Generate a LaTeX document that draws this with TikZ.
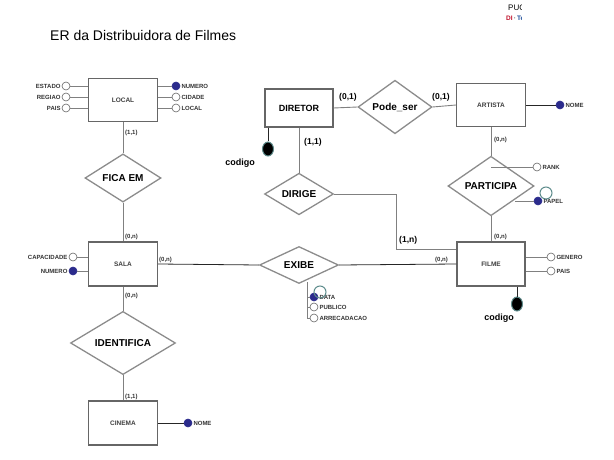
\documentclass[tikz,border=0pt]{standalone}
\usepackage{fontspec}
\setmainfont{Liberation Sans}
\usetikzlibrary{shapes.geometric}
\definecolor{navy}{HTML}{2B2B8C}
\definecolor{teal2}{HTML}{5E8C8C}
\definecolor{pucred}{HTML}{C0102A}
\definecolor{pucblue}{HTML}{1F4E9A}
\begin{document}
\begin{tikzpicture}[x=1pt,y=-1pt,
  ent/.style={draw=black!60, line width=1.1pt, fill=white, minimum width=69pt, minimum height=44pt, inner sep=0pt, font=\fontsize{6.5}{7}\selectfont\bfseries, text=black!75},
  rel/.style={diamond, draw=black!45, line width=1.3pt, fill=white, inner sep=0pt, font=\fontsize{10}{11}\selectfont\bfseries},
  ln/.style={draw=black!50, line width=0.9pt},
  dln/.style={draw=black!85, line width=0.8pt},
  att/.style={circle, draw=black!60, line width=0.6pt, fill=white, minimum size=8pt, inner sep=0pt},
  katt/.style={att, fill=navy, draw=navy},
  lab/.style={font=\fontsize{6}{7}\selectfont\bfseries, text=black!80, inner sep=1pt},
  card/.style={font=\fontsize{6}{7}\selectfont\bfseries, text=black!80, inner sep=0pt, anchor=west},
  bcard/.style={font=\fontsize{8.5}{9}\selectfont\bfseries, inner sep=0pt, anchor=west},
  cod/.style={ellipse, fill=black, draw=teal2, line width=1pt, minimum width=11pt, minimum height=14pt, inner sep=0pt},
  codlab/.style={font=\fontsize{9}{10}\selectfont\bfseries, inner sep=0pt},
  ghost/.style={circle, draw=teal2, line width=1pt, minimum size=12pt, inner sep=0pt}
]
\useasboundingbox (0,0) rectangle (614,460);

% title and logo
\node[anchor=west, font=\fontsize{14}{16}\selectfont, inner sep=0pt] (title) at (50,35) {ER da Distribuidora de Filmes};
\begin{scope}
\clip (500,0) rectangle (521,30);
\node[anchor=west, font=\fontsize{8}{9}\selectfont, inner sep=0pt] (puc) at (508,8) {PUC-Rio};
\node[anchor=west, font=\fontsize{6.5}{7}\selectfont\bfseries, inner sep=0pt] (di) at (506,18) {\textcolor{pucred}{DI}\,\textcolor{black!60}{\textperiodcentered}\,\textcolor{pucblue}{TecGraf}};
\end{scope}

% entities
\node[ent, minimum height=43pt] (local) at (123,100) {LOCAL};
\node[ent] (sala) at (123,264) {SALA};
\node[ent] (cinema) at (123,423) {CINEMA};
\node[ent, minimum width=68pt, minimum height=38pt, font=\fontsize{9}{10}\selectfont\bfseries, text=black] (diretor) at (299,108) {DIRETOR};
\node[ent, minimum height=43pt] (artista) at (491,105) {ARTISTA};
\node[ent, minimum width=68pt] (filme) at (491,264) {FILME};

% relationships
\node[rel, minimum width=76pt, minimum height=39pt] (ficaem) at (123,178) {FICA EM};
\node[rel, minimum width=105pt, minimum height=40pt] (identifica) at (123,343) {IDENTIFICA};
\node[rel, minimum width=69pt, minimum height=39pt] (dirige) at (299,194) {DIRIGE};
\node[rel, minimum width=79pt, minimum height=37pt] (exibe) at (299,265) {EXIBE};
\node[rel, minimum width=74pt, minimum height=40pt] (podeser) at (395,107) {Pode\_ser};
\node[rel, minimum width=86pt, minimum height=40pt] (participa) at (491,186) {PARTICIPA};

% connectors
\draw[ln] (local.south) -- (ficaem.north);
\draw[ln] (ficaem.south) -- (sala.north);
\draw[ln] (sala.south) -- (identifica.north);
\draw[ln] (identifica.south) -- (cinema.north);
\draw[dln] (sala.east) -- (exibe.west);
\draw[dln] (exibe.east) -- (filme.west);
\draw[ln] (diretor.east) -- (podeser.west);
\draw[ln] (podeser.east) -- (artista.west);
\draw[ln] (diretor.south) -- (dirige.north);
\coordinate (bend1) at (396,194);
\coordinate (bend2) at (396,249);
\draw[ln] (dirige.east) -- (bend1) -- (bend2) -- (filme.west |- bend2);
\draw[ln] (artista.south) -- (participa.north);
\draw[ln] (participa.south) -- (filme.north);

% cardinalities
\node[card] (c1) at (125,133) {(1,1)};
\node[card] (c2) at (125,237) {(0,n)};
\node[card] (c3) at (159,260) {(0,n)};
\node[card] (c4) at (125,296) {(0,n)};
\node[card] (c5) at (125,397) {(1,1)};
\node[bcard] (c6) at (339,97) {(0,1)};
\node[bcard] (c7) at (432,97) {(0,1)};
\node[bcard] (c8) at (304,142) {(1,1)};
\node[card] (c9) at (494,140) {(0,n)};
\node[card] (c10) at (494,237) {(0,n)};
\node[bcard] (c11) at (399,240) {(1,n)};
\node[card] (c12) at (435,260) {(0,n)};

% LOCAL attributes
\node[att] (estado) at (66,86) {};
\node[att] (regiao) at (66,97) {};
\node[att] (paisl) at (66,108) {};
\node[katt] (numerol) at (176,86) {};
\node[att] (cidade) at (176,97) {};
\node[att] (locala) at (176,108) {};
\draw[ln] (estado) -- (local.west |- estado);
\draw[ln] (regiao) -- (local.west |- regiao);
\draw[ln] (paisl) -- (local.west |- paisl);
\draw[ln] (numerol) -- (local.east |- numerol);
\draw[ln] (cidade) -- (local.east |- cidade);
\draw[ln] (locala) -- (local.east |- locala);
\node[lab, anchor=east] (t1) at (estado.west) {ESTADO};
\node[lab, anchor=east] (t2) at (regiao.west) {REGIAO};
\node[lab, anchor=east] (t3) at (paisl.west) {PAIS};
\node[lab, anchor=west] (t4) at (numerol.east) {NUMERO};
\node[lab, anchor=west] (t5) at (cidade.east) {CIDADE};
\node[lab, anchor=west] (t6) at (locala.east) {LOCAL};

% SALA attributes
\node[att] (capac) at (73,257) {};
\node[katt] (numeros) at (73,271) {};
\draw[ln] (capac) -- (sala.west |- capac);
\draw[ln] (numeros) -- (sala.west |- numeros);
\node[lab, anchor=east] (t7) at (capac.west) {CAPACIDADE};
\node[lab, anchor=east] (t8) at (numeros.west) {NUMERO};

% CINEMA attribute
\node[katt] (nomec) at (188,423) {};
\draw[dln] (nomec) -- (cinema.east |- nomec);
\node[lab, anchor=west] (t9) at (nomec.east) {NOME};

% ARTISTA attribute
\node[katt] (nomea) at (560,105) {};
\draw[dln] (nomea) -- (artista.east |- nomea);
\node[lab, anchor=west] (t10) at (nomea.east) {NOME};

% PARTICIPA attributes
\node[att] (rank) at (537,167) {};
\draw[ln] (participa.north |- rank) -- (rank);
\node[lab, anchor=west] (t11) at (rank.east) {RANK};
\node[katt] (papel) at (538,201) {};
\coordinate (pj) at (515,201);
\draw[ln] (pj) -- (papel);
\node[lab, anchor=west] (t12) at (papel.east) {PAPEL};
\node[ghost] (g1) at (546,193) {};

% FILME attributes
\node[att] (genero) at (551,257) {};
\node[att] (paisf) at (551,271) {};
\draw[ln] (genero) -- (filme.east |- genero);
\draw[ln] (paisf) -- (filme.east |- paisf);
\node[lab, anchor=west] (t13) at (genero.east) {GENERO};
\node[lab, anchor=west] (t14) at (paisf.east) {PAIS};

% codigo keys
\node[cod] (kdir) at (268,149) {};
\draw[dln] (diretor.south -| kdir) -- (kdir);
\node[codlab] (t15) at (240,163) {codigo};
\node[cod] (kfil) at (517,304) {};
\draw[dln] (filme.south -| kfil) -- (kfil);
\node[codlab] (t16) at (499,318) {codigo};

% EXIBE attributes
\coordinate (ex0) at (307,282);
\coordinate (ex1) at (307,318);
\draw[ln] (ex0) -- (ex1);
\node[katt] (data) at (314,297) {};
\node[att] (publico) at (314,307) {};
\node[att] (arrec) at (314,318) {};
\draw[ln] (data) -- (ex0 |- data);
\draw[ln] (publico) -- (ex0 |- publico);
\draw[ln] (arrec) -- (ex1);
\node[lab, anchor=west] (t17) at (data.east) {DATA};
\node[lab, anchor=west] (t18) at (publico.east) {PUBLICO};
\node[lab, anchor=west] (t19) at (arrec.east) {ARRECADACAO};
\node[ghost] (g2) at (320,292) {};
\end{tikzpicture}
\end{document}
